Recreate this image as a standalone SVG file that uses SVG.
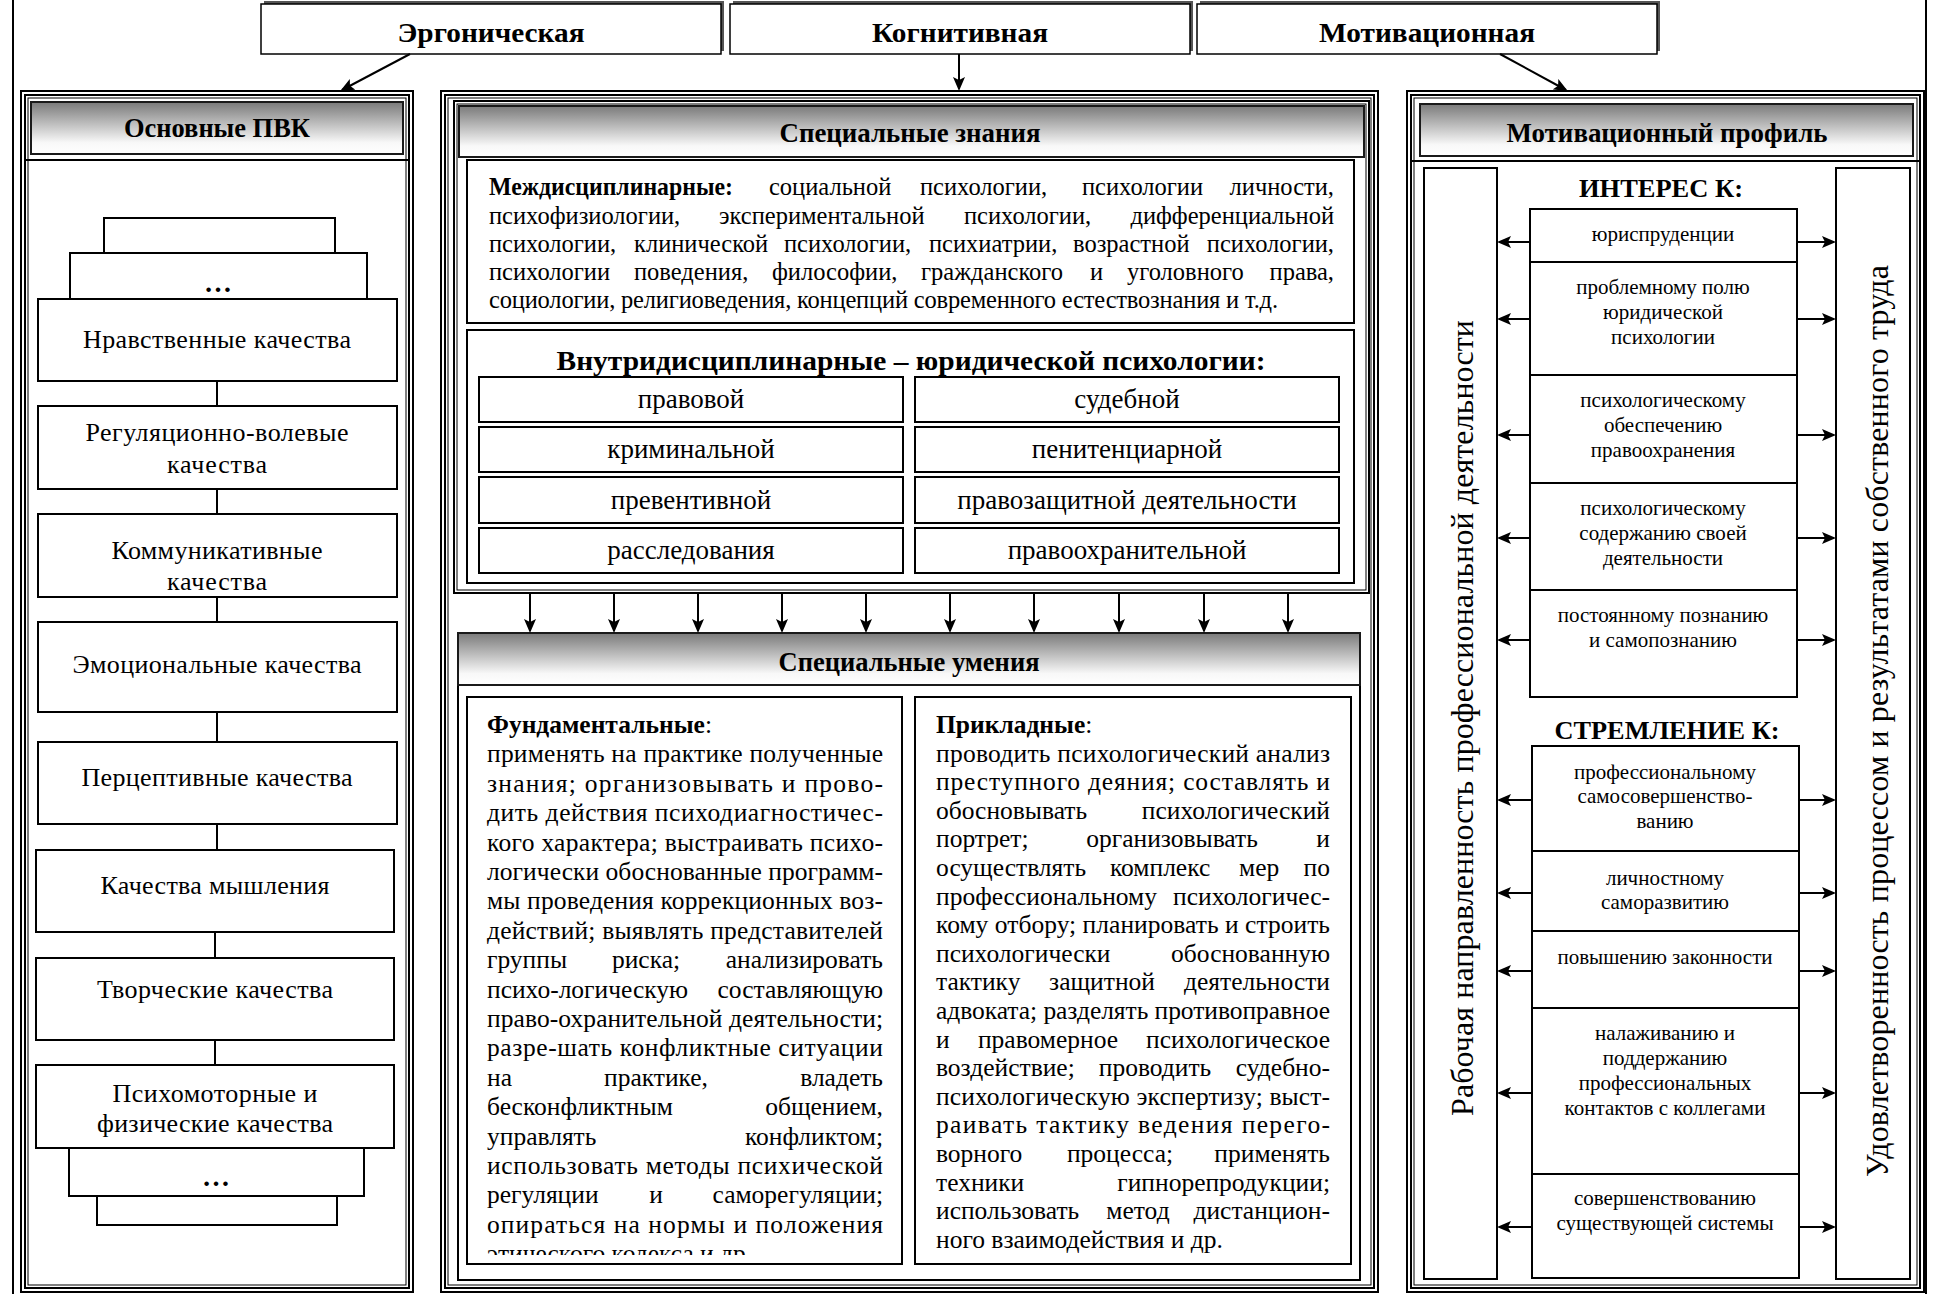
<svg xmlns="http://www.w3.org/2000/svg" width="1933" height="1294" viewBox="0 0 1933 1294">
<defs>
<linearGradient id="hg" x1="0" y1="0" x2="0" y2="1">
<stop offset="0" stop-color="#7a7a7a"/>
<stop offset="0.78" stop-color="#f8f8f8"/>
<stop offset="1" stop-color="#ffffff"/>
</linearGradient>
<marker id="ah" viewBox="0 0 14 12" refX="12" refY="6" markerWidth="14" markerHeight="12" markerUnits="userSpaceOnUse" orient="auto">
<path d="M0,0 L14,6 L0,12 L3,6 z" fill="#000"/>
</marker>
<clipPath id="fclip"><rect x="467" y="697" width="435" height="558"/></clipPath>
<style>
.s2{fill:none;stroke:#000;stroke-width:2}
.s1{fill:none;stroke:#000;stroke-width:1}
.bx{fill:#fff;stroke:#000;stroke-width:2}
.hd{fill:url(#hg);stroke:#1a1a1a;stroke-width:2}
.sh{fill:#555}
text{font-family:"Liberation Serif","Times New Roman",serif;fill:#000}
.c{text-anchor:middle}
.e{text-anchor:end}
.b{font-weight:bold}
.h{font-size:27px;font-weight:bold}
.p{font-size:26px}
.g{font-size:27px}
.m{font-size:24.5px}
.u{font-size:25.5px}
.r{font-size:21px}
.v{font-size:32px}
.cn{fill:none;stroke:#000;stroke-width:2;marker-end:url(#ah)}
.ln{fill:none;stroke:#000;stroke-width:2}
</style>
</defs>
<rect x="0" y="0" width="1933" height="1294" fill="#fff"/>
<line x1="13" y1="0" x2="13" y2="1294" class="ln"/>
<line x1="1926" y1="0" x2="1926" y2="1294" class="ln"/>

<g id="top-ergonomic">
<rect x="264" y="1" width="460" height="50" class="sh"/>
<rect x="261" y="4" width="460" height="50" fill="#fff" stroke="#000" stroke-width="1.5"/>
<text x="491" y="42" class="h c" textLength="187" lengthAdjust="spacingAndGlyphs">Эргоническая</text>
</g>
<g id="top-cognitive">
<rect x="733" y="1" width="460" height="50" class="sh"/>
<rect x="730" y="4" width="460" height="50" fill="#fff" stroke="#000" stroke-width="1.5"/>
<text x="960" y="42" class="h c" textLength="176" lengthAdjust="spacingAndGlyphs">Когнитивная</text>
</g>
<g id="top-motivational">
<rect x="1200" y="1" width="460" height="50" class="sh"/>
<rect x="1197" y="4" width="460" height="50" fill="#fff" stroke="#000" stroke-width="1.5"/>
<text x="1427" y="42" class="h c" textLength="216" lengthAdjust="spacingAndGlyphs">Мотивационная</text>
</g>

<g id="pvk">
<rect x="21" y="91" width="392" height="1201" class="s2"/>
<rect x="25" y="95" width="384" height="1193" class="s2"/>
<rect x="28" y="98" width="378" height="1187" class="s1"/>
<rect x="31" y="102" width="372" height="52" class="hd"/>
<line x1="25" y1="160" x2="409" y2="160" class="ln"/>
<text x="217" y="137" class="h c" textLength="186" lengthAdjust="spacingAndGlyphs">Основные ПВК</text>
<rect x="104" y="218" width="231" height="35" class="bx"/>
<rect x="70" y="253" width="297" height="46" class="bx"/>
<text x="218" y="292" class="b c" font-size="28">…</text>
<rect x="38" y="299" width="359" height="82" class="bx"/>
<text x="217" y="348" class="p c" textLength="268">Нравственные качества</text>
<rect x="38" y="406" width="359" height="83" class="bx"/>
<text x="217" y="441" class="p c" textLength="263">Регуляционно-волевые</text>
<text x="217" y="473" class="p c" textLength="100">качества</text>
<rect x="38" y="514" width="359" height="83" class="bx"/>
<text x="217" y="559" class="p c" textLength="211">Коммуникативные</text>
<text x="217" y="590" class="p c" textLength="100">качества</text>
<rect x="38" y="622" width="359" height="90" class="bx"/>
<text x="217" y="673" class="p c" textLength="289">Эмоциональные качества</text>
<rect x="38" y="742" width="359" height="82" class="bx"/>
<text x="217" y="786" class="p c" textLength="271">Перцептивные качества</text>
<rect x="36" y="850" width="358" height="82" class="bx"/>
<text x="215" y="894" class="p c" textLength="229">Качества мышления</text>
<rect x="36" y="958" width="358" height="82" class="bx"/>
<text x="215" y="998" class="p c" textLength="236">Творческие качества</text>
<rect x="36" y="1065" width="358" height="83" class="bx"/>
<text x="215" y="1102" class="p c" textLength="205">Психомоторные и</text>
<text x="215" y="1132" class="p c" textLength="236">физические качества</text>
<rect x="69" y="1148" width="295" height="48" class="bx"/>
<text x="216" y="1186" class="b c" font-size="28">…</text>
<rect x="97" y="1196" width="240" height="29" class="bx"/>
</g>

<g id="cognitive">
<rect x="441" y="91" width="937" height="1201" class="s2"/>
<rect x="445" y="95" width="929" height="1193" class="s2"/>
<rect x="448" y="98" width="923" height="1187" class="s1"/>
<rect x="454" y="101" width="915" height="492" class="s2"/>
<rect x="457" y="104" width="909" height="486" class="s1"/>
</g>
<g id="knowledge-header">
<rect x="459" y="106" width="905" height="51" class="hd"/>
<text x="910" y="142" class="h c" textLength="261" lengthAdjust="spacingAndGlyphs">Специальные знания</text>
</g>
<g id="interdisciplinary">
<rect x="467" y="160" width="887" height="163" class="bx"/>
<text x="489" y="195" class="m b" textLength="244" lengthAdjust="spacingAndGlyphs">Междисциплинарные:</text>
<text x="769" y="195" class="m">социальной</text>
<text x="920" y="195" class="m">психологии,</text>
<text x="1082" y="195" class="m">психологии</text>
<text x="1334" y="195" class="m e">личности,</text>
<text x="489" y="223.5" class="m">психофизиологии,</text>
<text x="719" y="223.5" class="m">экспериментальной</text>
<text x="964" y="223.5" class="m">психологии,</text>
<text x="1334" y="223.5" class="m e">дифференциальной</text>
<text x="489" y="252" class="m">психологии,</text>
<text x="634" y="252" class="m">клинической</text>
<text x="784" y="252" class="m">психологии,</text>
<text x="929" y="252" class="m">психиатрии,</text>
<text x="1073" y="252" class="m">возрастной</text>
<text x="1334" y="252" class="m e">психологии,</text>
<text x="489" y="280" class="m">психологии</text>
<text x="634" y="280" class="m">поведения,</text>
<text x="772" y="280" class="m">философии,</text>
<text x="921" y="280" class="m">гражданского</text>
<text x="1090" y="280" class="m">и</text>
<text x="1127" y="280" class="m">уголовного</text>
<text x="1334" y="280" class="m e">права,</text>
<text x="489" y="308" class="m" textLength="789" lengthAdjust="spacing">социологии, религиоведения, концепций современного естествознания и т.д.</text>
</g>
<g id="intradisciplinary">
<rect x="467" y="330" width="887" height="253" class="bx"/>
<text x="911" y="370" class="b c" font-size="28" textLength="709" lengthAdjust="spacingAndGlyphs">Внутридисциплинарные – юридической психологии:</text>
<rect x="479" y="377" width="424" height="45" class="bx"/>
<text x="691" y="408" class="g c">правовой</text>
<rect x="915" y="377" width="424" height="45" class="bx"/>
<text x="1127" y="408" class="g c">судебной</text>
<rect x="479" y="427" width="424" height="45" class="bx"/>
<text x="691" y="458" class="g c">криминальной</text>
<rect x="915" y="427" width="424" height="45" class="bx"/>
<text x="1127" y="458" class="g c">пенитенциарной</text>
<rect x="479" y="477" width="424" height="46" class="bx"/>
<text x="691" y="509" class="g c">превентивной</text>
<rect x="915" y="477" width="424" height="46" class="bx"/>
<text x="1127" y="509" class="g c">правозащитной деятельности</text>
<rect x="479" y="528" width="424" height="45" class="bx"/>
<text x="691" y="559" class="g c">расследования</text>
<rect x="915" y="528" width="424" height="45" class="bx"/>
<text x="1127" y="559" class="g c">правоохранительной</text>
</g>

<g id="skills">
<rect x="458" y="633" width="902" height="647" class="s2"/>
<rect x="458" y="633" width="902" height="52" class="hd"/>
<text x="909" y="671" class="h c" textLength="261" lengthAdjust="spacingAndGlyphs">Специальные умения</text>
</g>
<g id="fundamental">
<rect x="467" y="697" width="435" height="567" class="bx"/>
<g clip-path="url(#fclip)">
<text x="487" y="733" class="u"><tspan class="b">Фундаментальные</tspan>:</text>
<text x="487" y="762.4" class="u" textLength="396" lengthAdjust="spacing">применять на практике полученные</text>
<text x="487" y="791.8" class="u" textLength="396" lengthAdjust="spacing">знания; организовывать и прово-</text>
<text x="487" y="821.2" class="u" textLength="396" lengthAdjust="spacing">дить действия психодиагностичес-</text>
<text x="487" y="850.6" class="u" textLength="396" lengthAdjust="spacing">кого характера; выстраивать психо-</text>
<text x="487" y="880" class="u" textLength="396" lengthAdjust="spacing">логически обоснованные программ-</text>
<text x="487" y="909.4" class="u" textLength="396" lengthAdjust="spacing">мы проведения коррекционных воз-</text>
<text x="487" y="938.8" class="u" textLength="396" lengthAdjust="spacing">действий; выявлять представителей</text>
<text x="487" y="968.2" class="u">группы</text>
<text x="646" y="968.2" class="u c">риска;</text>
<text x="883" y="968.2" class="u e">анализировать</text>
<text x="487" y="997.6" class="u">психо-логическую</text>
<text x="883" y="997.6" class="u e">составляющую</text>
<text x="487" y="1027" class="u" textLength="396" lengthAdjust="spacing">право-охранительной деятельности;</text>
<text x="487" y="1056.4" class="u" textLength="396" lengthAdjust="spacing">разре-шать конфликтные ситуации</text>
<text x="487" y="1085.8" class="u">на</text>
<text x="656" y="1085.8" class="u c">практике,</text>
<text x="883" y="1085.8" class="u e">владеть</text>
<text x="487" y="1115.2" class="u">бесконфликтным</text>
<text x="883" y="1115.2" class="u e">общением,</text>
<text x="487" y="1144.6" class="u">управлять</text>
<text x="883" y="1144.6" class="u e">конфликтом;</text>
<text x="487" y="1174" class="u" textLength="396" lengthAdjust="spacing">использовать методы психической</text>
<text x="487" y="1203.4" class="u">регуляции</text>
<text x="656" y="1203.4" class="u c">и</text>
<text x="883" y="1203.4" class="u e">саморегуляции;</text>
<text x="487" y="1232.8" class="u" textLength="396" lengthAdjust="spacing">опираться на нормы и положения</text>
<text x="487" y="1262.2" class="u">этического кодекса и др.</text>
</g>
</g>
<g id="applied">
<rect x="915" y="697" width="436" height="567" class="bx"/>
<text x="936" y="733" class="u"><tspan class="b">Прикладные</tspan>:</text>
<text x="936" y="761.6" class="u" textLength="394" lengthAdjust="spacing">проводить психологический анализ</text>
<text x="936" y="790.2" class="u" textLength="394" lengthAdjust="spacing">преступного деяния; составлять и</text>
<text x="936" y="818.8" class="u">обосновывать</text>
<text x="1330" y="818.8" class="u e">психологический</text>
<text x="936" y="847.4" class="u">портрет;</text>
<text x="1172" y="847.4" class="u c">организовывать</text>
<text x="1330" y="847.4" class="u e">и</text>
<text x="936" y="876" class="u">осуществлять</text>
<text x="1110" y="876" class="u">комплекс</text>
<text x="1239" y="876" class="u">мер</text>
<text x="1330" y="876" class="u e">по</text>
<text x="936" y="904.6" class="u">профессиональному</text>
<text x="1330" y="904.6" class="u e">психологичес-</text>
<text x="936" y="933.2" class="u" textLength="394" lengthAdjust="spacing">кому отбору; планировать и строить</text>
<text x="936" y="961.8" class="u">психологически</text>
<text x="1330" y="961.8" class="u e">обоснованную</text>
<text x="936" y="990.4" class="u">тактику</text>
<text x="1102" y="990.4" class="u c">защитной</text>
<text x="1330" y="990.4" class="u e">деятельности</text>
<text x="936" y="1019" class="u" textLength="394" lengthAdjust="spacing">адвоката; разделять противоправное</text>
<text x="936" y="1047.6" class="u">и</text>
<text x="1048" y="1047.6" class="u c">правомерное</text>
<text x="1330" y="1047.6" class="u e">психологическое</text>
<text x="936" y="1076.2" class="u">воздействие;</text>
<text x="1155" y="1076.2" class="u c">проводить</text>
<text x="1330" y="1076.2" class="u e">судебно-</text>
<text x="936" y="1104.8" class="u" textLength="394" lengthAdjust="spacing">психологическую экспертизу; выст-</text>
<text x="936" y="1133.4" class="u" textLength="394" lengthAdjust="spacing">раивать тактику ведения перего-</text>
<text x="936" y="1162" class="u">ворного</text>
<text x="1120" y="1162" class="u c">процесса;</text>
<text x="1330" y="1162" class="u e">применять</text>
<text x="936" y="1190.6" class="u">техники</text>
<text x="1330" y="1190.6" class="u e">гипнорепродукции;</text>
<text x="936" y="1219.2" class="u">использовать</text>
<text x="1138" y="1219.2" class="u c">метод</text>
<text x="1330" y="1219.2" class="u e">дистанцион-</text>
<text x="936" y="1247.8" class="u">ного взаимодействия и др.</text>
</g>

<g id="motivation">
<rect x="1407" y="91" width="517" height="1201" class="s2"/>
<rect x="1411" y="95" width="509" height="1193" class="s2"/>
<rect x="1414" y="98" width="503" height="1187" class="s1"/>
<rect x="1420" y="104" width="493" height="52" class="hd"/>
<line x1="1411" y1="161" x2="1920" y2="161" class="ln"/>
<text x="1667" y="142" class="h c" textLength="321" lengthAdjust="spacingAndGlyphs">Мотивационный профиль</text>
</g>
<g id="work-orientation">
<rect x="1424" y="168" width="73" height="1111" class="bx"/>
<text transform="translate(1473,718) rotate(-90)" class="v c" textLength="796" lengthAdjust="spacing">Рабочая направленность профессиональной деятельности</text>
</g>
<g id="satisfaction">
<rect x="1836" y="168" width="74" height="1111" class="bx"/>
<text transform="translate(1888,721) rotate(-90)" class="v c" textLength="912" lengthAdjust="spacing">Удовлетворенность процессом и результатами собственного труда</text>
</g>
<g id="interest">
<text x="1661" y="197" class="b c" font-size="26" textLength="164" lengthAdjust="spacingAndGlyphs">ИНТЕРЕС К:</text>
<rect x="1530" y="209" width="267" height="53" class="bx"/>
<text x="1663" y="241" class="r c">юриспруденции</text>
<rect x="1530" y="262" width="267" height="113" class="bx"/>
<text x="1663" y="294" class="r c">проблемному полю</text>
<text x="1663" y="319" class="r c">юридической</text>
<text x="1663" y="344" class="r c">психологии</text>
<rect x="1530" y="375" width="267" height="108" class="bx"/>
<text x="1663" y="407" class="r c">психологическому</text>
<text x="1663" y="432" class="r c">обеспечению</text>
<text x="1663" y="457" class="r c">правоохранения</text>
<rect x="1530" y="483" width="267" height="107" class="bx"/>
<text x="1663" y="515" class="r c">психологическому</text>
<text x="1663" y="540" class="r c">содержанию своей</text>
<text x="1663" y="565" class="r c">деятельности</text>
<rect x="1530" y="590" width="267" height="107" class="bx"/>
<text x="1663" y="622" class="r c">постоянному познанию</text>
<text x="1663" y="647" class="r c">и самопознанию</text>
</g>
<g id="aspiration">
<text x="1667" y="739" class="b c" font-size="26" textLength="225" lengthAdjust="spacingAndGlyphs">СТРЕМЛЕНИЕ К:</text>
<rect x="1532" y="746" width="267" height="105" class="bx"/>
<text x="1665" y="779" class="r c">профессиональному</text>
<text x="1665" y="803" class="r c">самосовершенство-</text>
<text x="1665" y="828" class="r c">ванию</text>
<rect x="1532" y="851" width="267" height="80" class="bx"/>
<text x="1665" y="885" class="r c">личностному</text>
<text x="1665" y="909" class="r c">саморазвитию</text>
<rect x="1532" y="931" width="267" height="77" class="bx"/>
<text x="1665" y="964" class="r c">повышению законности</text>
<rect x="1532" y="1008" width="267" height="166" class="bx"/>
<text x="1665" y="1040" class="r c">налаживанию и</text>
<text x="1665" y="1065" class="r c">поддержанию</text>
<text x="1665" y="1090" class="r c">профессиональных</text>
<text x="1665" y="1115" class="r c">контактов с коллегами</text>
<rect x="1532" y="1174" width="267" height="104" class="bx"/>
<text x="1665" y="1205" class="r c">совершенствованию</text>
<text x="1665" y="1230" class="r c">существующей системы</text>
</g>

<g id="connectors">
<line x1="410" y1="54" x2="342" y2="90" class="cn"/>
<line x1="959" y1="54" x2="959" y2="89" class="cn"/>
<line x1="1500" y1="54" x2="1566" y2="90" class="cn"/>
<line x1="217" y1="381" x2="217" y2="406" class="ln"/>
<line x1="217" y1="489" x2="217" y2="514" class="ln"/>
<line x1="217" y1="597" x2="217" y2="622" class="ln"/>
<line x1="217" y1="712" x2="217" y2="742" class="ln"/>
<line x1="217" y1="824" x2="217" y2="850" class="ln"/>
<line x1="215" y1="932" x2="215" y2="958" class="ln"/>
<line x1="215" y1="1040" x2="215" y2="1065" class="ln"/>
<line x1="530" y1="593" x2="530" y2="631" class="cn"/>
<line x1="614" y1="593" x2="614" y2="631" class="cn"/>
<line x1="698" y1="593" x2="698" y2="631" class="cn"/>
<line x1="782" y1="593" x2="782" y2="631" class="cn"/>
<line x1="866" y1="593" x2="866" y2="631" class="cn"/>
<line x1="950" y1="593" x2="950" y2="631" class="cn"/>
<line x1="1034" y1="593" x2="1034" y2="631" class="cn"/>
<line x1="1119" y1="593" x2="1119" y2="631" class="cn"/>
<line x1="1204" y1="593" x2="1204" y2="631" class="cn"/>
<line x1="1288" y1="593" x2="1288" y2="631" class="cn"/>
<line x1="1530" y1="242" x2="1499" y2="242" class="cn"/>
<line x1="1797" y1="242" x2="1834" y2="242" class="cn"/>
<line x1="1530" y1="319" x2="1499" y2="319" class="cn"/>
<line x1="1797" y1="319" x2="1834" y2="319" class="cn"/>
<line x1="1530" y1="435" x2="1499" y2="435" class="cn"/>
<line x1="1797" y1="435" x2="1834" y2="435" class="cn"/>
<line x1="1530" y1="538" x2="1499" y2="538" class="cn"/>
<line x1="1797" y1="538" x2="1834" y2="538" class="cn"/>
<line x1="1530" y1="640" x2="1499" y2="640" class="cn"/>
<line x1="1797" y1="640" x2="1834" y2="640" class="cn"/>
<line x1="1532" y1="800" x2="1499" y2="800" class="cn"/>
<line x1="1799" y1="800" x2="1834" y2="800" class="cn"/>
<line x1="1532" y1="893" x2="1499" y2="893" class="cn"/>
<line x1="1799" y1="893" x2="1834" y2="893" class="cn"/>
<line x1="1532" y1="971" x2="1499" y2="971" class="cn"/>
<line x1="1799" y1="971" x2="1834" y2="971" class="cn"/>
<line x1="1532" y1="1093" x2="1499" y2="1093" class="cn"/>
<line x1="1799" y1="1093" x2="1834" y2="1093" class="cn"/>
<line x1="1532" y1="1227" x2="1499" y2="1227" class="cn"/>
<line x1="1799" y1="1227" x2="1834" y2="1227" class="cn"/>
</g>
</svg>
